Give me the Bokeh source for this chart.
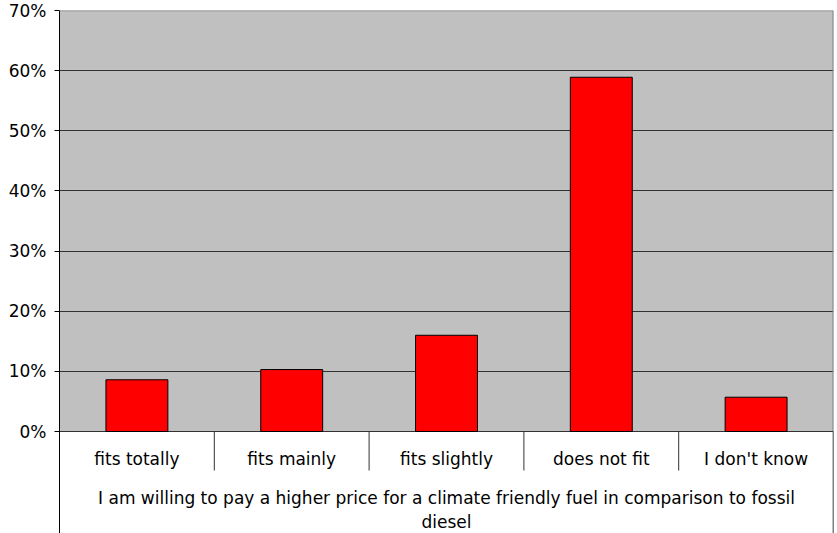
from bokeh.plotting import figure
from bokeh.models import Range1d, FixedTicker, BoxAnnotation, Span, ColumnDataSource
from bokeh.core.properties import value
from bokeh.embed import file_html
from bokeh.resources import INLINE

categories = ["fits totally", "fits mainly", "fits slightly", "does not fit", "I don't know"]
shares = [8.6, 10.3, 16.0, 58.9, 5.7]
y_ticks = [0, 10, 20, 30, 40, 50, 60, 70]
y_tick_labels = {t: f"{t}%" for t in y_ticks}
group_label_lines = ["I am willing to pay a higher price for a climate friendly fuel in comparison to fossil",
                     "diesel"]

FONT = "DejaVu Sans"
FS = "17px"

W, H = 837, 533
ML, MR, MT = 59, 4, 10
frame_h = H - MT
px_zero = 421                      # pixels from top of frame to 0%
ymax = 70
per_px = ymax / px_zero
ymin = -(frame_h - px_zero) * per_px
n = len(categories)

p = figure(width=W, height=H, output_backend="svg", toolbar_location=None,
           x_range=Range1d(0, n), y_range=Range1d(ymin, ymax),
           min_border_left=ML, min_border_right=MR, min_border_top=MT, min_border_bottom=0)
p.outline_line_color = None
p.background_fill_color = "white"
p.border_fill_color = "white"
p.xaxis.visible = False
p.xgrid.visible = False

# plot area background
p.add_layout(BoxAnnotation(bottom=0, top=ymax, left=0, right=n, fill_color="#c0c0c0",
                           fill_alpha=1, line_color=None, level="image"))

# y axis
p.yaxis.ticker = FixedTicker(ticks=y_ticks)
p.yaxis.major_label_overrides = y_tick_labels
p.yaxis.major_label_text_font = FONT
p.yaxis.major_label_text_font_size = FS
p.yaxis.major_label_text_color = "black"
p.yaxis.major_tick_out = 5
p.yaxis.major_tick_in = 0
p.yaxis.minor_tick_line_color = None
p.yaxis.axis_line_color = "black"
p.yaxis.major_tick_line_color = "black"
p.yaxis.major_label_standoff = 8

p.ygrid.ticker = FixedTicker(ticks=y_ticks[:-1])
p.ygrid.grid_line_color = "#333333"
p.ygrid.grid_line_width = 1

# plot area border (top, right)
p.add_layout(Span(location=ymax, dimension="width", line_color="#808080", line_width=1.5))
p.segment(x0=[n], y0=[0], x1=[n], y1=[ymax], line_color="#808080", line_width=2)
p.segment(x0=[n], y0=[ymin], x1=[n], y1=[0], line_color="black", line_width=1.5)

# bars
src = ColumnDataSource(dict(x=[i + 0.5 for i in range(n)], top=shares, cat=categories))
p.vbar(x="x", top="top", bottom=0, width=0.4, source=src,
       fill_color="#ff0000", line_color="black", line_width=1)

# category axis (multi-level)
sep_len = 39 * per_px
p.segment(x0=list(range(1, n)), y0=[0] * (n - 1), x1=list(range(1, n)), y1=[-sep_len] * (n - 1),
          line_color="#333333", line_width=1)
p.text(x="x", y=-27 * per_px, text="cat", source=src,
       text_font=value(FONT), text_font_size=FS, text_align="center",
       text_baseline="middle", text_color="black")
p.text(x=[n / 2] * len(group_label_lines),
       y=[-66 * per_px, -90 * per_px],
       text=group_label_lines,
       text_font=value(FONT), text_font_size=FS, text_align="center",
       text_baseline="middle", text_color="black")

open("out.html", "w").write(file_html(p, INLINE))
